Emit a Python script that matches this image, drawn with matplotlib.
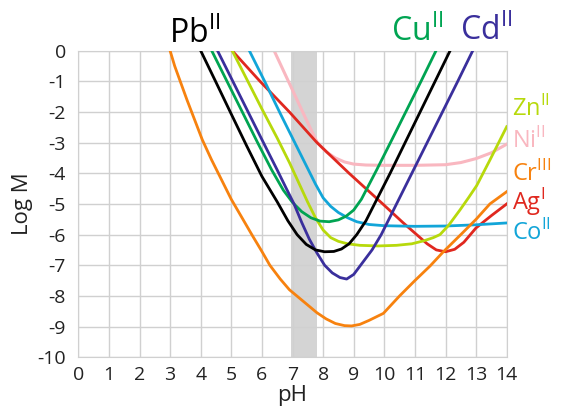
import matplotlib
matplotlib.use("Agg")
import matplotlib.pyplot as plt

plt.rcParams['font.family'] = ['Open Sans', 'DejaVu Sans']
plt.rcParams['mathtext.fontset'] = 'custom'
plt.rcParams['mathtext.rm'] = 'Open Sans'
plt.rcParams['axes.unicode_minus'] = False

# curves: pH, log M
pb_ph = [4.0, 4.5, 5.0, 5.5, 6.0, 6.5, 6.85, 7.15, 7.45, 7.75, 8.05, 8.35, 8.6, 8.85, 9.1, 9.4, 9.68, 10.19, 10.68, 11.17, 11.66, 12.15]
pb_m = [0, -1.03, -2.07, -3.1, -4.1, -4.93, -5.55, -6.0, -6.32, -6.5, -6.56, -6.55, -6.47, -6.3, -6.0, -5.55, -5.0, -4.0, -3.0, -2.0, -1.0, 0]

cu_ph = [4.36, 4.86, 5.36, 5.86, 6.32, 6.7, 7.0, 7.3, 7.6, 7.9, 8.2, 8.5, 8.75, 9.0, 9.25, 9.75, 10.25, 10.75, 11.2, 11.69]
cu_m = [0, -1.0, -2.0, -3.0, -3.89, -4.55, -4.95, -5.25, -5.45, -5.56, -5.58, -5.52, -5.4, -5.2, -4.85, -3.89, -2.9, -1.9, -1.0, 0]

cd_ph = [4.55, 5.05, 5.55, 6.05, 6.5, 6.8, 7.05, 7.3, 7.55, 7.8, 8.05, 8.3, 8.55, 8.77, 9.0, 9.3, 9.6, 9.9, 10.4, 10.9, 11.4, 11.9, 12.4, 12.89]
cd_m = [0, -1.0, -2.0, -3.0, -3.89, -4.5, -5.0, -5.6, -6.15, -6.6, -7.0, -7.25, -7.4, -7.45, -7.3, -6.9, -6.5, -6.0, -5.0, -4.0, -3.0, -2.0, -1.0, 0]

zn_ph = [5.03, 5.5, 6.0, 6.5, 6.9, 7.2, 7.5, 7.75, 8.0, 8.25, 8.5, 8.8, 9.2, 9.8, 10.4, 10.9, 11.3, 11.6, 11.82, 12.1, 12.47, 12.75, 13.02, 13.45, 14.0]
zn_m = [0, -0.92, -1.9, -2.85, -3.65, -4.3, -4.95, -5.45, -5.85, -6.1, -6.22, -6.3, -6.35, -6.37, -6.35, -6.3, -6.2, -6.1, -6.0, -5.7, -5.2, -4.8, -4.4, -3.57, -2.48]

ni_ph = [6.4, 6.75, 7.1, 7.45, 7.8, 8.1, 8.4, 8.7, 9.0, 9.4, 10.0, 11.0, 12.0, 12.5, 13.0, 13.5, 14.0]
ni_m = [0, -0.75, -1.5, -2.25, -2.98, -3.3, -3.5, -3.63, -3.7, -3.73, -3.74, -3.74, -3.72, -3.65, -3.52, -3.33, -3.05]

cr_ph = [3.0, 3.15, 3.35, 3.55, 3.8, 4.05, 4.35, 4.7, 5.0, 5.35, 5.67, 6.0, 6.26, 6.6, 6.9, 7.14, 7.5, 7.8, 8.1, 8.4, 8.7, 8.93, 9.2, 9.5, 9.97, 10.5, 11.0, 11.5, 11.93, 12.5, 13.0, 13.45, 14.0]
cr_m = [0, -0.5, -1.05, -1.6, -2.25, -2.9, -3.55, -4.25, -4.85, -5.45, -6.0, -6.55, -7.0, -7.45, -7.8, -8.0, -8.3, -8.55, -8.75, -8.9, -8.97, -8.98, -8.93, -8.8, -8.57, -8.0, -7.5, -7.02, -6.56, -6.0, -5.5, -5.0, -4.6]

ag_ph = [5.03, 5.94, 6.9, 7.8, 8.85, 9.95, 10.6, 11.0, 11.4, 11.7, 12.0, 12.3, 12.6, 13.0, 13.5, 14.0]
ag_m = [0, -1, -2, -3, -4, -5, -5.6, -5.95, -6.3, -6.5, -6.56, -6.48, -6.25, -5.78, -5.38, -5.0]

co_ph = [5.59, 6.1, 6.6, 7.1, 7.5, 7.75, 8.0, 8.25, 8.5, 8.8, 9.1, 9.5, 10.0, 11.0, 12.0, 13.0, 14.0]
co_m = [0, -1.02, -2.05, -3.05, -3.85, -4.35, -4.8, -5.08, -5.28, -5.45, -5.58, -5.67, -5.71, -5.73, -5.72, -5.68, -5.62]

band = [6.95, 7.8]

fig = plt.figure(figsize=(5.73, 4.12), dpi=100)
ax = fig.add_axes([78.3 / 573, 1 - 357.2 / 412, (506.7 - 78.3) / 573, (357.2 - 50.7) / 412])

ax.axvspan(band[0], band[1], color='#d4d4d4', zorder=0, lw=0)

# order so that overlaps look like the original
ax.plot(ni_ph, ni_m, color='#f9b7c0', lw=2.2, zorder=2)
ax.plot(ag_ph, ag_m, color='#e0281f', lw=2, zorder=3)
ax.plot(co_ph, co_m, color='#12a5d8', lw=2, zorder=3)
ax.plot(zn_ph, zn_m, color='#b7d90c', lw=2, zorder=3)
ax.plot(cr_ph, cr_m, color='#f7820f', lw=2, zorder=3)
ax.plot(cu_ph, cu_m, color='#00a452', lw=2, zorder=4)
ax.plot(cd_ph, cd_m, color='#3a2f9c', lw=2, zorder=4)
ax.plot(pb_ph, pb_m, color='black', lw=2, zorder=5)

ax.set_xlim(0, 14)
ax.set_ylim(-10, 0)
ax.set_xticks(range(0, 15))
ax.set_yticks(range(-10, 1))
ax.grid(True, color='#d0d0d0', lw=1)
ax.set_axisbelow(True)
for s in ax.spines.values():
    s.set_color('#d0d0d0')
ax.tick_params(length=0, labelsize=14, colors='#222222')
ax.tick_params(axis='x', pad=6)
ax.tick_params(axis='y', pad=9)
ax.set_xlabel('pH', fontsize=16, labelpad=1, color='#222222')
ax.set_ylabel('Log M', fontsize=16, labelpad=3, color='#222222')

def lab(x, y, name, ox, color, size):
    fig.text(x / 573, 1 - y / 412, r'$\mathrm{%s}^{\mathrm{%s}}$' % (name, ox),
             color=color, fontsize=size, va='baseline', ha='left')

lab(169, 43, 'Pb', 'II', 'black', 23)
lab(391, 41, 'Cu', 'II', '#00a452', 23)
lab(460, 40, 'Cd', 'II', '#3a2f9c', 23)
lab(512, 116, 'Zn', 'II', '#b7d90c', 17)
lab(512, 148, 'Ni', 'II', '#f9b7c0', 17)
lab(512, 181, 'Cr', 'III', '#f7820f', 17)
lab(512, 210, 'Ag', 'I', '#e0281f', 17)
lab(512, 240, 'Co', 'II', '#12a5d8', 17)

fig.savefig('out.png', dpi=100)
